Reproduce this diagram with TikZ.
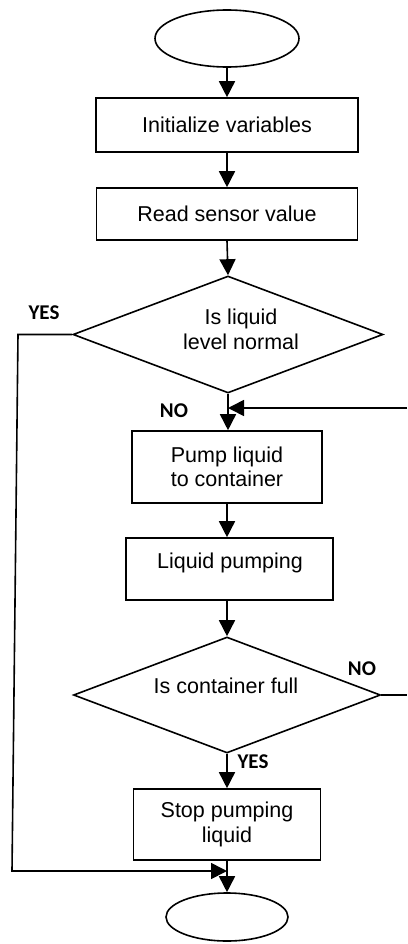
\documentclass[tikz,border=0pt]{standalone}
\usepackage{fontspec}
\setmainfont{Liberation Sans}
\newfontfamily\lblfont{Carlito}
\usetikzlibrary{shapes.geometric,arrows.meta}
\tikzset{
  every node/.style={font=\fontsize{21.5}{24.5}\selectfont, inner sep=0pt},
  flowline/.style={line width=1.6pt, draw=black},
  flowarrow/.style={flowline, -{Triangle[width=16pt,length=16pt]}},
  procbox/.style={draw, line width=1.6pt, rectangle, align=center},
  termin/.style={draw, line width=1.6pt, ellipse},
  decis/.style={draw, line width=1.6pt, diamond},
  txt/.style={align=center},
  lbl/.style={font=\lblfont\bfseries\fontsize{21}{24}\selectfont}
}
\begin{document}
\begin{tikzpicture}[x=1pt,y=-1pt]
\useasboundingbox (0,0) rectangle (407,944);
% terminals
\node[termin, minimum width=144pt, minimum height=57pt] (start) at (227,38.5) {};
\node[termin, minimum width=122pt, minimum height=48pt] (stop) at (227,917) {};
% process boxes
\node[procbox, minimum width=262pt, minimum height=54pt] (b1) at (227,125) {Initialize variables};
\node[procbox, minimum width=261pt, minimum height=52pt] (b2) at (227,214) {Read sensor value};
\node[procbox, minimum width=190pt, minimum height=72pt] (b3) at (227,467) {Pump liquid\\to container};
\node[procbox, minimum width=207pt, minimum height=62pt] (b4) at (229.5,569) {};
\node[txt] (t4) at (230,563) {Liquid pumping};
\node[procbox, minimum width=187pt, minimum height=71pt] (b5) at (227,824.5) {Stop pumping\\liquid};
% decisions
\node[decis, minimum width=310pt, minimum height=117pt] (d1) at (228,334.5) {};
\node[txt] (t1) at (241,329.5) {Is liquid\\level normal};
\node[decis, minimum width=307pt, minimum height=116pt] (d2) at (227,695) {};
\node[txt] (t2) at (226,685.5) {Is container full};
% labels
\node[lbl] (yes1) at (44,313) {YES};
\node[lbl] (no1) at (174,411) {NO};
\node[lbl] (no2) at (362,669) {NO};
\node[lbl] (yes2) at (253,762) {YES};
% helper coordinates
\coordinate (l1) at (18,334.5);
\coordinate (l2) at (12,871);
\coordinate (j2) at (227,871);
\coordinate (r1) at (407,695);
\coordinate (r2) at (407,408);
\coordinate (j1) at (228,408);
% connectors
\draw[flowarrow] (start.south) -- (b1.north);
\draw[flowarrow] (b1.south) -- (b2.north);
\draw[flowarrow] (b2.south) -- (d1.north);
\draw[flowarrow] (d1.south) -- (d1.south |- b3.north);
\draw[flowarrow] (b3.south) -- (b3.south |- b4.north);
\draw[flowarrow] (b3.south |- b4.south) -- (d2.north);
\draw[flowarrow] (d2.south) -- (b5.north);
\draw[flowarrow] (b5.south) -- (stop.north);
\draw[flowarrow] (d1.west) -- (l1) -- (l2) -- (j2);
\draw[flowline] (d2.east) -- (r1);
\draw[flowarrow] (r2) -- (j1);
\end{tikzpicture}
\end{document}
